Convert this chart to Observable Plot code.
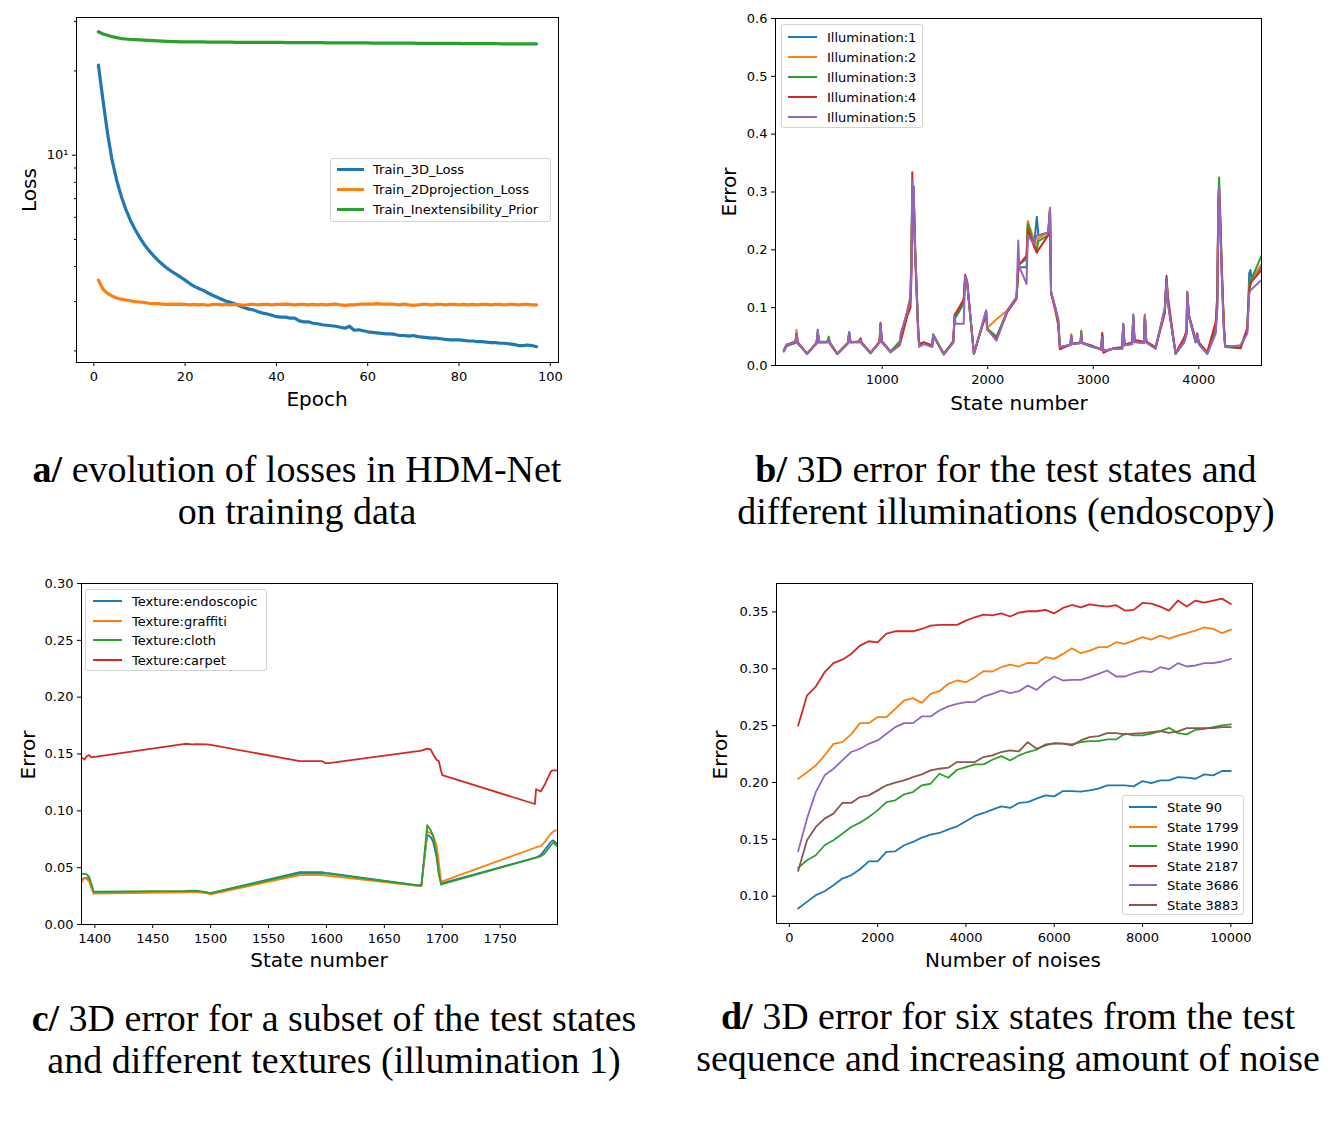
<!DOCTYPE html>
<html><head><meta charset="utf-8">
<script src="https://cdn.jsdelivr.net/npm/d3@7"></script>
<script src="https://cdn.jsdelivr.net/npm/@observablehq/plot@0.6"></script>
<style>
body{margin:0;background:#fff;}
#page{position:relative;width:1344px;height:1133px;overflow:hidden;background:#fff;}
.axlab{position:absolute;font-family:"DejaVu Sans";font-size:20px;white-space:nowrap;transform:translate(-50%,-50%);color:#000;line-height:1;}
.axlab.rot{transform:translate(-50%,-50%) rotate(-90deg);}
.cap{position:absolute;font-family:"Liberation Serif";font-size:38px;line-height:42px;text-align:center;white-space:nowrap;color:#000;transform:translateX(-50%);}
.leg{position:absolute;border:1px solid #d3d3d3;border-radius:3px;background:rgba(255,255,255,0.85);box-sizing:border-box;}
.leg span{position:absolute;font-family:"DejaVu Sans";font-size:13px;line-height:1;white-space:nowrap;transform:translateY(-50%);color:#000;}
.leg i{position:absolute;display:block;}
</style></head>
<body><div id="page"></div>
<script>
// ---------- Panel a data ----------
const epochs = [1,2,3,4,5,6,7,8,9,10,11,12,13,14,15,16,17,18,19,20,21,22,23,24,25,26,27,28,29,30,31,32,33,34,35,36,37,38,39,40,41,42,43,44,45,46,47,48,49,50,51,52,53,54,55,56,57,58,59,60,61,62,63,64,65,66,67,68,69,70,71,72,73,74,75,76,77,78,79,80,81,82,83,84,85,86,87,88,89,90,91,92,93,94,95,96,97];
const loss3D = [20.96,15.72,11.98,9.60,8.14,7.14,6.41,5.86,5.44,5.10,4.81,4.58,4.39,4.22,4.08,3.95,3.85,3.76,3.67,3.58,3.48,3.40,3.34,3.29,3.22,3.16,3.11,3.06,3.01,2.98,2.94,2.89,2.85,2.82,2.80,2.76,2.73,2.71,2.68,2.65,2.64,2.64,2.62,2.62,2.56,2.54,2.54,2.51,2.50,2.48,2.47,2.46,2.45,2.43,2.41,2.45,2.37,2.38,2.36,2.34,2.33,2.32,2.31,2.30,2.30,2.29,2.27,2.27,2.26,2.27,2.25,2.24,2.23,2.22,2.22,2.21,2.20,2.19,2.19,2.19,2.18,2.17,2.17,2.16,2.16,2.15,2.14,2.14,2.13,2.13,2.12,2.11,2.09,2.09,2.10,2.09,2.07];
const loss2D = [3.58,3.32,3.21,3.14,3.09,3.06,3.04,3.02,3.00,2.99,2.98,2.96,2.95,2.95,2.94,2.93,2.94,2.93,2.94,2.93,2.92,2.93,2.92,2.93,2.91,2.93,2.93,2.92,2.93,2.92,2.93,2.92,2.91,2.93,2.93,2.92,2.93,2.93,2.92,2.93,2.93,2.94,2.93,2.92,2.93,2.93,2.92,2.93,2.92,2.93,2.92,2.93,2.94,2.92,2.91,2.92,2.92,2.93,2.94,2.94,2.94,2.95,2.94,2.94,2.94,2.93,2.92,2.94,2.92,2.91,2.92,2.93,2.93,2.92,2.93,2.93,2.92,2.93,2.93,2.92,2.93,2.92,2.93,2.92,2.93,2.93,2.92,2.93,2.93,2.92,2.93,2.93,2.92,2.93,2.93,2.92,2.92];
const lossPrior = [27.6,27.1,26.8,26.5,26.3,26.1,26.0,25.9,25.85,25.8,25.75,25.7,25.65,25.6,25.55,25.5,25.45,25.45,25.4,25.4,25.4,25.4,25.4,25.4,25.35,25.35,25.35,25.35,25.35,25.35,25.3,25.3,25.3,25.3,25.3,25.3,25.3,25.3,25.3,25.3,25.3,25.25,25.25,25.25,25.25,25.25,25.25,25.25,25.25,25.25,25.2,25.2,25.2,25.2,25.2,25.2,25.2,25.2,25.2,25.2,25.15,25.15,25.15,25.15,25.15,25.15,25.15,25.15,25.15,25.15,25.1,25.1,25.1,25.1,25.1,25.1,25.1,25.1,25.1,25.1,25.05,25.05,25.05,25.05,25.05,25.05,25.05,25.05,25.0,25.0,25.0,25.0,25.0,25.0,24.98,24.98,24.98];
const aXTicks = [0,20,40,60,80,100];
const aYMajor = [10];
const aYMinor = [2,3,4,5,6,7,8,9,20,30];
const aNames = ["Train_3D_Loss","Train_2Dprojection_Loss","Train_Inextensibility_Prior"];

// ---------- Panel b data ----------
const bStates = [68,93,178,188,200,289,378,390,400,479,494,504,574,675,687,700,779,795,804,889,975,984,997,1079,1167,1174,1237,1268,1278,1285,1292,1298,1310,1325,1340,1350,1395,1474,1483,1495,1584,1673,1686,1695,1760,1772,1786,1805,1869,1985,1995,2083,2185,2273,2289,2300,2368,2380,2440,2465,2480,2573,2590,2600,2640,2668,2684,2785,2791,2800,2880,2886,2892,2990,3075,3085,3095,3190,3274,3284,3296,3369,3379,3391,3480,3489,3502,3590,3678,3694,3707,3780,3860,3884,3890,3906,3970,3985,4001,4080,4160,4175,4185,4192,4200,4210,4222,4238,4250,4396,4459,4478,4490,4500,4594];
const illum1 = [.025,.034,.039,.045,.038,.020,.038,.062,.040,.040,.046,.038,.020,.038,.058,.040,.040,.044,.038,.021,.040,.070,.040,.023,.040,.045,.090,.115,.190,.300,.260,.300,.210,.140,.065,.035,.038,.033,.052,.048,.019,.040,.080,.083,.103,.108,.150,.142,.020,.095,.063,.048,.095,.118,.170,.170,.170,.245,.210,.257,.225,.230,.270,.127,.100,.075,.030,.036,.052,.037,.039,.055,.039,.032,.028,.052,.025,.029,.029,.072,.035,.037,.088,.041,.039,.086,.040,.029,.100,.150,.110,.020,.040,.055,.127,.086,.040,.055,.037,.020,.060,.100,.270,.310,.260,.200,.140,.060,.033,.034,.060,.160,.165,.150,.170];
const illum2 = [.026,.035,.042,.062,.040,.021,.040,.058,.040,.041,.047,.040,.021,.040,.055,.041,.040,.046,.039,.022,.042,.072,.042,.025,.038,.048,.095,.120,.200,.310,.270,.300,.220,.140,.070,.036,.040,.033,.053,.048,.020,.042,.085,.088,.108,.110,.153,.143,.021,.090,.065,.080,.095,.118,.170,.175,.185,.250,.215,.210,.220,.230,.273,.127,.100,.080,.032,.036,.054,.037,.040,.058,.040,.033,.029,.056,.025,.029,.030,.070,.036,.040,.085,.042,.040,.088,.041,.032,.095,.150,.110,.021,.046,.058,.128,.086,.042,.056,.038,.022,.070,.120,.270,.310,.270,.210,.140,.065,.033,.034,.062,.140,.145,.150,.175];
const illum3 = [.024,.033,.040,.050,.039,.020,.039,.055,.041,.041,.050,.040,.020,.039,.056,.040,.042,.047,.040,.022,.040,.068,.042,.024,.042,.047,.092,.118,.210,.310,.280,.310,.210,.140,.070,.036,.040,.034,.054,.050,.020,.042,.083,.086,.106,.108,.152,.142,.020,.093,.064,.050,.093,.118,.160,.175,.185,.245,.210,.200,.215,.225,.270,.125,.100,.080,.031,.036,.052,.038,.040,.060,.040,.034,.028,.052,.025,.029,.030,.070,.035,.040,.084,.042,.040,.086,.041,.030,.095,.150,.110,.020,.042,.055,.125,.084,.041,.055,.037,.021,.065,.110,.290,.325,.280,.220,.150,.065,.032,.030,.062,.140,.145,.150,.190];
const illum4 = [.027,.036,.041,.055,.040,.020,.039,.056,.040,.040,.046,.038,.020,.039,.056,.040,.041,.046,.040,.022,.041,.074,.041,.023,.036,.040,.085,.100,.160,.334,.280,.300,.200,.130,.060,.038,.040,.035,.052,.048,.020,.040,.088,.090,.110,.115,.157,.146,.021,.090,.062,.045,.092,.115,.170,.175,.190,.235,.205,.195,.200,.225,.265,.125,.095,.070,.028,.036,.050,.037,.039,.055,.039,.034,.027,.056,.022,.030,.032,.068,.036,.040,.082,.044,.041,.084,.042,.031,.090,.155,.120,.021,.048,.060,.125,.088,.045,.050,.040,.023,.075,.120,.280,.300,.270,.210,.140,.070,.034,.030,.065,.130,.140,.145,.165];
const illum5 = [.025,.036,.040,.055,.039,.020,.039,.060,.040,.040,.046,.039,.020,.039,.058,.040,.040,.044,.039,.022,.040,.072,.040,.023,.035,.055,.092,.115,.180,.320,.270,.310,.210,.135,.060,.032,.037,.032,.054,.048,.019,.040,.086,.072,.072,.072,.154,.144,.020,.095,.063,.043,.095,.118,.216,.170,.141,.225,.210,.225,.225,.230,.271,.127,.100,.078,.032,.036,.052,.037,.039,.055,.039,.033,.028,.050,.025,.029,.029,.072,.035,.037,.086,.040,.039,.086,.040,.029,.098,.150,.107,.020,.040,.055,.127,.086,.040,.055,.037,.020,.055,.100,.270,.310,.260,.200,.130,.060,.032,.035,.055,.125,.130,.132,.148];
const bXTicks = [1000,2000,3000,4000];
const bYTicks = [0,0.1,0.2,0.3,0.4,0.5,0.6];
const bNames = ["Illumination:1","Illumination:2","Illumination:3","Illumination:4","Illumination:5"];

// ---------- Panel c data ----------
const cStates = [1389,1391,1393,1395,1397,1399,1400,1478,1484,1488,1497,1500,1577,1596,1599,1602,1679,1682,1687,1690,1692,1695,1697,1699,1700,1780,1781,1785,1788,1794,1796,1799];
const texEndo = [.0396,.0410,.0410,.0400,.0340,.0285,.0285,.0290,.0292,.0292,.0280,.0276,.0460,.0460,.0455,.0452,.0345,.0350,.0790,.0770,.0730,.0600,.0450,.0360,.0365,.0587,.0590,.0610,.0650,.0730,.0740,.0710];
const texGraffiti = [.0380,.0410,.0400,.0380,.0320,.0270,.0272,.0283,.0285,.0285,.0275,.0266,.0435,.0435,.0430,.0428,.0340,.0340,.0820,.0800,.0790,.0700,.0550,.0370,.0380,.0675,.0680,.0690,.0720,.0800,.0820,.0830];
const texCloth = [.0446,.0446,.0440,.0420,.0360,.0290,.0288,.0295,.0297,.0298,.0283,.0276,.0450,.0450,.0447,.0445,.0343,.0340,.0875,.0830,.0780,.0620,.0450,.0350,.0355,.0585,.0588,.0600,.0620,.0700,.0720,.0690];
const texCarpet = [.1468,.1450,.1480,.1490,.1470,.1475,.1475,.1590,.1585,.1587,.1585,.1580,.1438,.1438,.1420,.1420,.1525,.1530,.1547,.1540,.1500,.1450,.1438,.1350,.1315,.1060,.1190,.1170,.1220,.1350,.1356,.1356];
const cXTicks = [1400,1450,1500,1550,1600,1650,1700,1750];
const cYTicks = [0,0.05,0.10,0.15,0.20,0.25,0.30];
const cNames = ["Texture:endoscopic","Texture:graffiti","Texture:cloth","Texture:carpet"];

// ---------- Panel d data ----------
const dNoise = [200,400,600,800,1000,1200,1400,1600,1800,2000,2200,2400,2600,2800,3000,3200,3400,3600,3800,4000,4200,4400,4600,4800,5000,5200,5400,5600,5800,6000,6200,6400,6600,6800,7000,7200,7400,7600,7800,8000,8200,8400,8600,8800,9000,9200,9400,9600,9800,10000];
const state90 = [.0892,.0950,.1009,.1044,.1097,.1155,.1184,.1237,.1307,.1307,.1389,.1395,.1448,.1477,.1515,.1542,.1556,.1588,.1615,.1659,.1706,.1732,.1761,.1790,.1776,.1820,.1828,.1858,.1887,.1878,.1925,.1925,.1919,.1931,.1946,.1975,.1975,.1975,.1966,.2013,.1995,.2019,.2019,.2048,.2042,.2033,.2071,.2063,.2101,.2101];
const state1799 = [.2033,.2090,.2150,.2238,.2340,.2355,.2423,.2522,.2522,.2575,.2575,.2648,.2721,.2742,.2700,.2780,.2803,.2868,.2897,.2882,.2926,.2979,.2976,.3014,.3037,.3020,.3052,.3049,.3102,.3087,.3131,.3181,.3137,.3160,.3190,.3190,.3234,.3219,.3248,.3278,.3257,.3292,.3266,.3292,.3313,.3336,.3365,.3351,.3313,.3345];
const state1990 = [.1249,.1316,.1360,.1448,.1492,.1550,.1609,.1647,.1697,.1755,.1828,.1843,.1896,.1916,.1975,.1989,.2077,.2042,.2112,.2136,.2159,.2159,.2200,.2232,.2194,.2238,.2268,.2288,.2335,.2341,.2341,.2335,.2355,.2364,.2364,.2379,.2379,.2429,.2414,.2414,.2429,.2452,.2481,.2434,.2423,.2464,.2472,.2487,.2502,.2511];
const state2187 = [.2500,.2765,.2844,.2970,.3050,.3080,.3130,.3204,.3242,.3233,.3310,.3330,.3330,.3330,.3350,.3380,.3386,.3386,.3386,.3424,.3453,.3477,.3470,.3488,.3460,.3494,.3506,.3506,.3518,.3488,.3535,.3561,.3540,.3567,.3556,.3547,.3559,.3512,.3518,.3579,.3573,.3547,.3512,.3600,.3547,.3600,.3582,.3600,.3617,.3570];
const state3686 = [.1395,.1682,.1916,.2063,.2121,.2194,.2268,.2297,.2340,.2370,.2429,.2487,.2522,.2522,.2581,.2581,.2633,.2669,.2692,.2707,.2707,.2756,.2780,.2809,.2786,.2803,.2853,.2815,.2882,.2932,.2897,.2903,.2903,.2926,.2955,.2985,.2932,.2932,.2961,.2979,.2970,.3014,.2996,.3049,.3020,.3029,.3049,.3049,.3064,.3087];
const state3883 = [.1222,.1492,.1609,.1682,.1726,.1820,.1820,.1872,.1887,.1931,.1975,.1998,.2019,.2048,.2071,.2107,.2121,.2130,.2180,.2180,.2180,.2224,.2238,.2268,.2282,.2273,.2355,.2297,.2326,.2347,.2341,.2326,.2370,.2399,.2408,.2434,.2434,.2423,.2429,.2434,.2443,.2452,.2437,.2449,.2478,.2478,.2478,.2478,.2487,.2487];
const dXTicks = [0,2000,4000,6000,8000,10000];
const dYTicks = [0.10,0.15,0.20,0.25,0.30,0.35];
const dNames = ["State 90","State 1799","State 1990","State 2187","State 3686","State 3883"];

const tab10 = ["#1f77b4","#ff7f0e","#2ca02c","#d62728","#9467bd","#8c564b"];

// ---------- helpers ----------
const page = document.getElementById("page");
const rows = (xs, ys) => xs.map((x, i) => ({x, y: ys[i]}));
const baseStyle = {fontFamily: "DejaVu Sans", fontSize: "13px", color: "black", background: "transparent", overflow: "visible"};

function addPlot(svg, left, top) {
  const w = document.createElement("div");
  w.style.cssText = `position:absolute;left:${left}px;top:${top}px;`;
  w.appendChild(svg);
  page.appendChild(w);
}
function addText(html, cls, left, top) {
  const d = document.createElement("div");
  d.className = cls;
  d.style.left = left + "px";
  d.style.top = top + "px";
  d.innerHTML = html;
  page.appendChild(d);
}
function addLegend(left, top, width, height, names, colors, o) {
  const box = document.createElement("div");
  box.className = "leg";
  box.style.cssText = `left:${left}px;top:${top}px;width:${width}px;height:${height}px;`;
  names.forEach((n, i) => {
    const y = o.row0 + i * o.gap;
    const ln = document.createElement("i");
    ln.style.cssText = `left:${o.lineX}px;top:${y - o.lw / 2}px;width:${o.lineW}px;height:${o.lw}px;background:${colors[i]};`;
    const tx = document.createElement("span");
    tx.style.cssText = `left:${o.textX}px;top:${y}px;`;
    tx.textContent = n;
    box.appendChild(ln);
    box.appendChild(tx);
  });
  page.appendChild(box);
}
function lines(xs, series, lw) {
  return series.map((ys, i) => Plot.line(rows(xs, ys), {x: "x", y: "y", stroke: tab10[i], strokeWidth: lw, clip: true}));
}
const xAxisOpts = {tickSize: 4, tickPadding: 5.5, label: null, fontSize: 13};
const yAxisOpts = {tickSize: 4, tickPadding: 4, label: null, fontSize: 13};

// ---------- Panel a ----------
addPlot(Plot.plot({
  width: 580, height: 420, marginLeft: 76, marginRight: 22, marginTop: 17, marginBottom: 58,
  x: {domain: [-3.8, 101.8]},
  y: {type: "log", domain: [1.818, 31.03]},
  style: baseStyle,
  marks: [
    ...lines(epochs, [loss3D, loss2D, lossPrior], 3.2),
    Plot.axisX({ticks: aXTicks, ...xAxisOpts}),
    Plot.axisY({ticks: aYMajor, tickFormat: () => "10\u00B9", ...yAxisOpts}),
    Plot.axisY({ticks: aYMinor, tickFormat: () => "", tickSize: 2, label: null}),
    Plot.frame({stroke: "black", strokeWidth: 1})
  ]
}), 0, 0);
addText("Loss", "axlab rot", 29, 190);
addText("Epoch", "axlab", 317, 399);
addLegend(330, 158, 221, 64, aNames, tab10, {row0: 10, gap: 20, lineX: 6, lineW: 27, textX: 42, lw: 3});

// ---------- Panel b ----------
addPlot(Plot.plot({
  width: 600, height: 420, marginLeft: 75, marginRight: 39, marginTop: 18, marginBottom: 55,
  x: {domain: [-11, 4594]},
  y: {domain: [0, 0.6]},
  style: baseStyle,
  marks: [
    ...lines(bStates, [illum1, illum2, illum3, illum4, illum5], 2),
    Plot.axisX({ticks: bXTicks, tickFormat: d3.format("d"), ...xAxisOpts}),
    Plot.axisY({ticks: bYTicks, tickFormat: d3.format(".1f"), ...yAxisOpts}),
    Plot.frame({stroke: "black", strokeWidth: 1})
  ]
}), 700, 0);
addText("Error", "axlab rot", 729, 192);
addText("State number", "axlab", 1019, 403);
addLegend(781, 24, 142, 104, bNames, tab10, {row0: 11.5, gap: 20, lineX: 6, lineW: 29, textX: 45, lw: 2});

// ---------- Panel c ----------
addPlot(Plot.plot({
  width: 580, height: 420, marginLeft: 81, marginRight: 23, marginTop: 13, marginBottom: 66,
  x: {domain: [1388.5, 1799.5]},
  y: {domain: [0, 0.30]},
  style: baseStyle,
  marks: [
    ...lines(cStates, [texEndo, texGraffiti, texCloth, texCarpet], 1.8),
    Plot.axisX({ticks: cXTicks, tickFormat: d3.format("d"), ...xAxisOpts}),
    Plot.axisY({ticks: cYTicks, tickFormat: d3.format(".2f"), ...yAxisOpts}),
    Plot.frame({stroke: "black", strokeWidth: 1})
  ]
}), 0, 570);
addText("Error", "axlab rot", 28, 755);
addText("State number", "axlab", 319, 960);
addLegend(85, 589, 182, 82, cNames, tab10, {row0: 11, gap: 19.6, lineX: 7, lineW: 29, textX: 46, lw: 2});

// ---------- Panel d ----------
addPlot(Plot.plot({
  width: 600, height: 420, marginLeft: 76, marginRight: 48, marginTop: 13, marginBottom: 67,
  x: {domain: [-290, 10490]},
  y: {domain: [0.076, 0.375]},
  style: baseStyle,
  marks: [
    ...lines(dNoise, [state90, state1799, state1990, state2187, state3686, state3883], 1.8),
    Plot.axisX({ticks: dXTicks, tickFormat: d3.format("d"), ...xAxisOpts}),
    Plot.axisY({ticks: dYTicks, tickFormat: d3.format(".2f"), ...yAxisOpts}),
    Plot.frame({stroke: "black", strokeWidth: 1})
  ]
}), 700, 570);
addText("Error", "axlab rot", 720, 755);
addText("Number of noises", "axlab", 1013, 960);
addLegend(1122, 795, 122, 120, dNames, tab10, {row0: 11, gap: 19.6, lineX: 6, lineW: 28, textX: 44, lw: 2});

// ---------- Captions ----------
addText("<b>a/</b> evolution of losses in HDM-Net<br>on training data", "cap", 297, 448);
addText("<b>b/</b> 3D error for the test states and<br>different illuminations (endoscopy)", "cap", 1006, 448);
addText("<b>c/</b> 3D error for a subset of the test states<br>and different textures (illumination 1)", "cap", 334, 997);
addText("<b>d/</b> 3D error for six states from the test<br>sequence and increasing amount of noise", "cap", 1008, 995);
</script>
</body></html>
